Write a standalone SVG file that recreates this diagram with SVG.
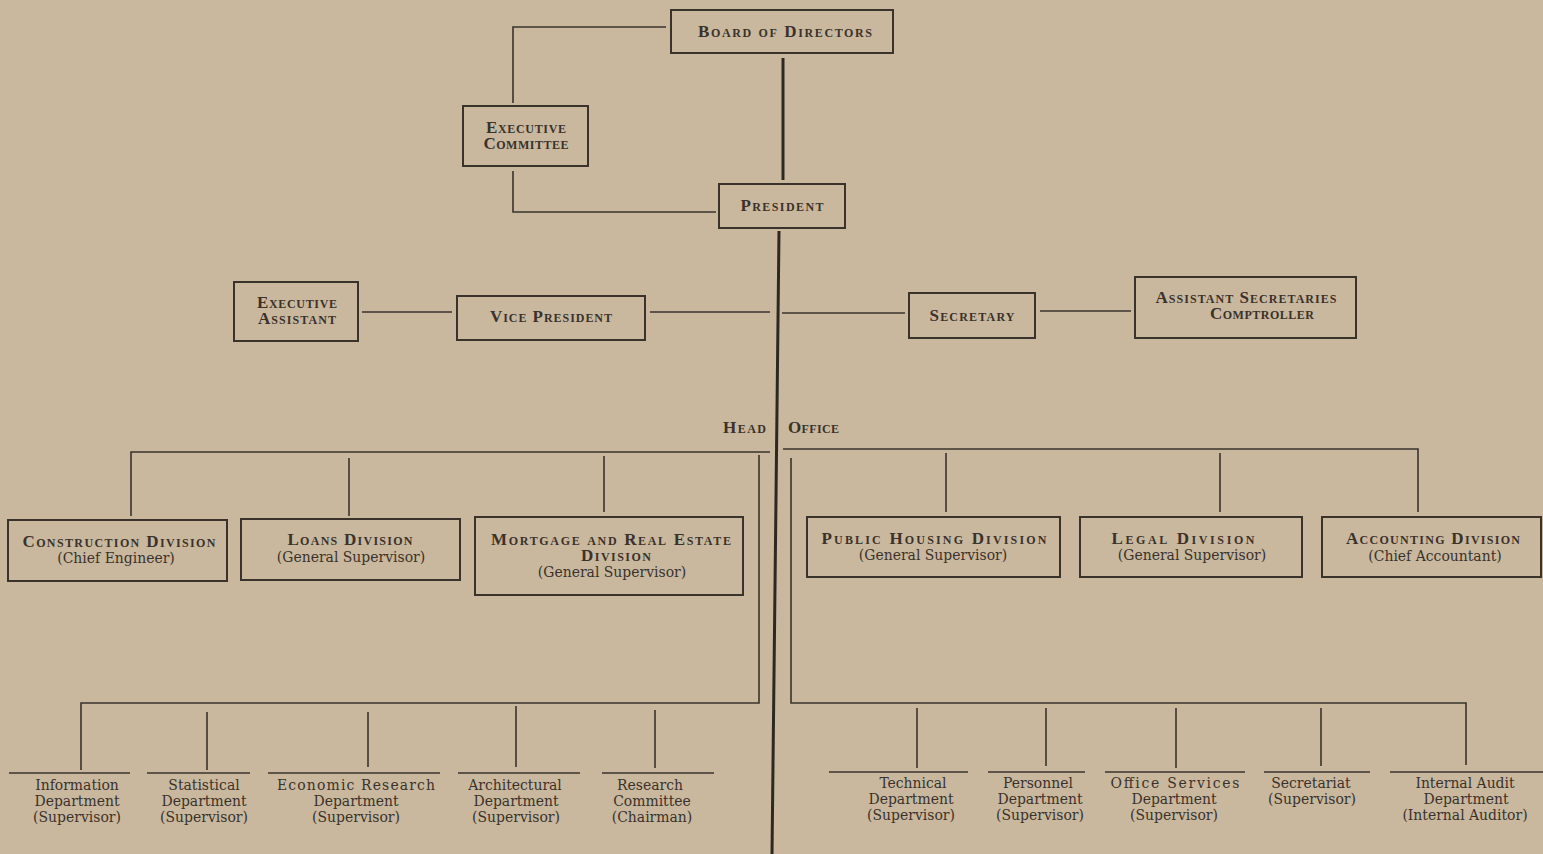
<svg xmlns="http://www.w3.org/2000/svg" width="1543" height="854" viewBox="0 0 1543 854">
<style>
.bx{fill:none;stroke:#3a332c;stroke-width:2}
.ln{fill:none;stroke:#3a332c;stroke-width:1.6}
.mn{fill:none;stroke:#2e2823;stroke-width:3}
.t{font-family:"Liberation Serif",serif;font-weight:bold;font-variant:small-caps;font-size:17px;fill:#3a322b;text-anchor:middle}
.h{font-family:"Liberation Serif",serif;font-weight:bold;font-variant:small-caps;font-size:17px;fill:#3a322b}
.s{font-family:"DejaVu Serif","Liberation Serif",serif;font-stretch:condensed;font-size:15.5px;fill:#3a322b;text-anchor:middle}
</style>
<rect width="1543" height="854" fill="#c9b89e"/>
<g id="connectors">
<polyline class="ln" points="666,27 513,27 513,103"/>
<polyline class="ln" points="513,171 513,212 716,212"/>
<line class="mn" x1="783" y1="58" x2="783" y2="180"/>
<line class="mn" x1="779" y1="231" x2="772" y2="854"/>
<line class="ln" x1="362" y1="312" x2="452" y2="312"/>
<line class="ln" x1="650" y1="312" x2="770" y2="312"/>
<line class="ln" x1="782" y1="313" x2="905" y2="313"/>
<line class="ln" x1="1040" y1="311" x2="1131" y2="311"/>
<polyline class="ln" points="131,516 131,452 770,452"/>
<line class="ln" x1="349" y1="458" x2="349" y2="516"/>
<line class="ln" x1="604" y1="456" x2="604" y2="512"/>
<polyline class="ln" points="759,455 759,703 81,703 81,770"/>
<line class="ln" x1="207" y1="712" x2="207" y2="770"/>
<line class="ln" x1="368" y1="712" x2="368" y2="767"/>
<line class="ln" x1="516" y1="706" x2="516" y2="767"/>
<line class="ln" x1="655" y1="710" x2="655" y2="768"/>
<polyline class="ln" points="783,449 1418,449 1418,512"/>
<line class="ln" x1="946" y1="453" x2="946" y2="512"/>
<line class="ln" x1="1220" y1="453" x2="1220" y2="512"/>
<polyline class="ln" points="791,458 791,703 1466,703 1466,765"/>
<line class="ln" x1="917" y1="708" x2="917" y2="768"/>
<line class="ln" x1="1046" y1="708" x2="1046" y2="766"/>
<line class="ln" x1="1176" y1="708" x2="1176" y2="768"/>
<line class="ln" x1="1321" y1="708" x2="1321" y2="766"/>
</g>
<g id="board"><rect class="bx" x="671" y="10" width="222" height="43"/><text class="t" x="785" y="37" textLength="174">Board of Directors</text></g>
<g id="exec-committee"><rect class="bx" x="463" y="106" width="125" height="60"/><text class="t" x="526" y="133" textLength="80">Executive</text><text class="t" x="526" y="149" textLength="85">Committee</text></g>
<g id="president"><rect class="bx" x="719" y="184" width="126" height="44"/><text class="t" x="782" y="211" textLength="83">President</text></g>
<g id="exec-assistant"><rect class="bx" x="234" y="282" width="124" height="59"/><text class="t" x="297" y="308" textLength="80">Executive</text><text class="t" x="297" y="324" textLength="78">Assistant</text></g>
<g id="vice-president"><rect class="bx" x="457" y="296" width="188" height="44"/><text class="t" x="551" y="322" textLength="122">Vice President</text></g>
<g id="secretary"><rect class="bx" x="909" y="293" width="126" height="45"/><text class="t" x="972" y="321" textLength="85">Secretary</text></g>
<g id="asst-secretaries"><rect class="bx" x="1135" y="277" width="221" height="61"/><text class="t" x="1246" y="303" textLength="181">Assistant Secretaries</text><text class="t" x="1262" y="319" textLength="104">Comptroller</text></g>
<g id="head-office"><text class="h" x="766" y="433" text-anchor="end" textLength="43">Head</text><text class="h" x="788" y="433" textLength="51">Office</text></g>
<g id="construction"><rect class="bx" x="8" y="520" width="219" height="61"/><text class="t" x="119" y="547" textLength="193">Construction Division</text><text class="s" x="116" y="563">(Chief Engineer)</text></g>
<g id="loans"><rect class="bx" x="241" y="519" width="219" height="61"/><text class="t" x="350" y="545" textLength="125">Loans Division</text><text class="s" x="351" y="562">(General Supervisor)</text></g>
<g id="mortgage"><rect class="bx" x="475" y="517" width="268" height="78"/><text class="t" x="611" y="545" textLength="240">Mortgage and Real Estate</text><text class="t" x="616" y="561" textLength="70">Division</text><text class="s" x="612" y="577">(General Supervisor)</text></g>
<g id="public-housing"><rect class="bx" x="807" y="517" width="253" height="60"/><text class="t" x="934" y="544" textLength="225">Public Housing Division</text><text class="s" x="933" y="560">(General Supervisor)</text></g>
<g id="legal"><rect class="bx" x="1080" y="517" width="222" height="60"/><text class="t" x="1183" y="544" textLength="143">Legal Division</text><text class="s" x="1192" y="560">(General Supervisor)</text></g>
<g id="accounting"><rect class="bx" x="1322" y="517" width="219" height="60"/><text class="t" x="1433" y="544" textLength="174">Accounting Division</text><text class="s" x="1435" y="561">(Chief Accountant)</text></g>
<g id="information"><line class="ln" x1="9" y1="773" x2="130" y2="773"/><text class="s" x="77" y="790">Information</text><text class="s" x="77" y="806">Department</text><text class="s" x="77" y="822">(Supervisor)</text></g>
<g id="statistical"><line class="ln" x1="147" y1="773" x2="250" y2="773"/><text class="s" x="204" y="790">Statistical</text><text class="s" x="204" y="806">Department</text><text class="s" x="204" y="822">(Supervisor)</text></g>
<g id="economic-research"><line class="ln" x1="268" y1="773" x2="440" y2="773"/><text class="s" x="356" y="790" textLength="158">Economic Research</text><text class="s" x="356" y="806">Department</text><text class="s" x="356" y="822">(Supervisor)</text></g>
<g id="architectural"><line class="ln" x1="458" y1="773" x2="580" y2="773"/><text class="s" x="515" y="790">Architectural</text><text class="s" x="516" y="806">Department</text><text class="s" x="516" y="822">(Supervisor)</text></g>
<g id="research-committee"><line class="ln" x1="602" y1="773" x2="714" y2="773"/><text class="s" x="650" y="790">Research</text><text class="s" x="652" y="806">Committee</text><text class="s" x="652" y="822">(Chairman)</text></g>
<g id="technical"><line class="ln" x1="829" y1="772" x2="968" y2="772"/><text class="s" x="913" y="788">Technical</text><text class="s" x="911" y="804">Department</text><text class="s" x="911" y="820">(Supervisor)</text></g>
<g id="personnel"><line class="ln" x1="988" y1="772" x2="1085" y2="772"/><text class="s" x="1038" y="788">Personnel</text><text class="s" x="1040" y="804">Department</text><text class="s" x="1040" y="820">(Supervisor)</text></g>
<g id="office-services"><line class="ln" x1="1105" y1="772" x2="1245" y2="772"/><text class="s" x="1175" y="788" textLength="129">Office Services</text><text class="s" x="1174" y="804">Department</text><text class="s" x="1174" y="820">(Supervisor)</text></g>
<g id="secretariat"><line class="ln" x1="1264" y1="772" x2="1370" y2="772"/><text class="s" x="1311" y="788">Secretariat</text><text class="s" x="1312" y="804">(Supervisor)</text></g>
<g id="internal-audit"><line class="ln" x1="1390" y1="772" x2="1543" y2="772"/><text class="s" x="1465" y="788">Internal Audit</text><text class="s" x="1466" y="804">Department</text><text class="s" x="1465" y="820">(Internal Auditor)</text></g>
</svg>
